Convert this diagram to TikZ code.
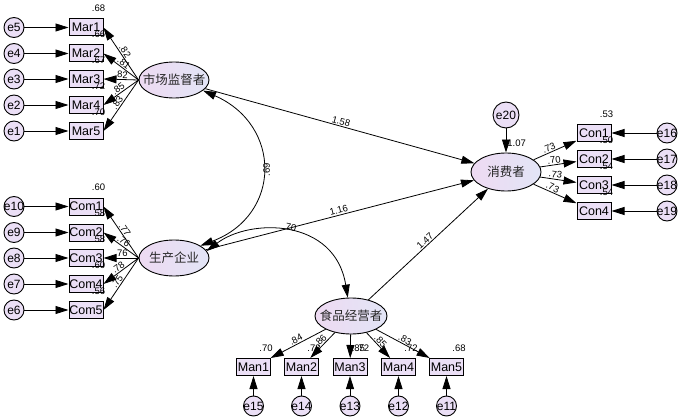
\documentclass[tikz,border=0pt]{standalone}
\usepackage{fontspec}
\setmainfont{Liberation Sans}
\newfontfamily\cjk{Noto Sans CJK SC}
\usetikzlibrary{arrows.meta,shapes.geometric}
\definecolor{lavbox}{RGB}{235,223,246}
\definecolor{lavL}{RGB}{238,218,242}
\definecolor{lavR}{RGB}{226,229,246}
\begin{document}
\begin{tikzpicture}[x=1pt,y=-1pt,
  lat/.style={ellipse, draw, line width=0.9pt, left color=lavL, right color=lavR, minimum width=70pt, minimum height=36pt, inner sep=0pt},
  ctext/.style={font=\cjk\fontsize{12.5}{14}\selectfont, inner sep=0pt, text=black!85},
  obs/.style={rectangle, draw, line width=1pt, fill=lavbox, minimum width=34pt, minimum height=17pt, inner sep=0pt, font=\fontsize{12.5}{14}\selectfont},
  err/.style={circle, draw, line width=0.9pt, fill=lavbox, minimum size=20pt, inner sep=0pt},
  etext/.style={font=\fontsize{12}{13}\selectfont, inner sep=0pt},
  num/.style={font=\fontsize{9.5}{11}\selectfont, inner sep=1pt},
  arr/.style={-{Triangle[length=13pt,width=8pt]}, line width=0.8pt},
  biarr/.style={{Triangle[length=13pt,width=8pt]}-{Triangle[length=13pt,width=8pt]}, line width=0.8pt},
]
\useasboundingbox (0,0) rectangle (680,417);

% latent variables
\node[lat, label={[ctext]center:市场监督者}] (mkt) at (174,80) {};
\node[lat, label={[ctext]center:生产企业}] (prod) at (174,258) {};
\node[lat, minimum width=72pt, label={[ctext]center:食品经营者}] (food) at (351,316) {};
\node[lat, minimum height=38pt, label={[ctext]center:消费者}] (cons) at (506,172) {};
\node[err, minimum size=26pt, label={[etext]center:e20}] (e20) at (506,115) {};

% Mar block
\foreach \i/\y/\e/\v/\l in {1/27.5/5/.68/.82, 2/53.5/4/.66/.81, 3/79/3/.67/.82, 4/105/2/.72/.85, 5/131/1/.70/.83} {
  \node[obs] (Mar\i) at (86,\y) {Mar\i};
  \node[err, label={[etext]center:e\e}] (e\e) at (14,\y) {};
  \draw[arr] (e\e) -- (Mar\i);
  \node[num] at ([shift={(-5,-10)}]Mar\i.north east) {\v};
  \draw[arr] (mkt.west) -- node[num, sloped, above, pos=0.5] {\l} (Mar\i.east);
}

% Com block
\foreach \i/\y/\e/\v/\l in {1/206.5/10/.60/.77, 2/232.5/9/.58/.76, 3/258/8/.58/.76, 4/284/7/.60/.78, 5/310/6/.56/.75} {
  \node[obs] (Com\i) at (86,\y) {Com\i};
  \node[err, label={[etext]center:e\e}] (e\e) at (14,\y) {};
  \draw[arr] (e\e) -- (Com\i);
  \node[num] at ([shift={(-5,-10)}]Com\i.north east) {\v};
  \draw[arr] (prod.west) -- node[num, sloped, above, pos=0.5] {\l} (Com\i.east);
}

% Con block
\foreach \i/\y/\e/\v/\l in {1/133/16/.53/.73, 2/159/17/.50/.70, 3/185/18/.54/.73, 4/211/19/.54/.73} {
  \node[obs] (Con\i) at (594,\y) {Con\i};
  \node[err, label={[etext]center:e\e}] (e\e) at (667,\y) {};
  \draw[arr] (e\e) -- (Con\i);
  \node[num] at ([shift={(-5,-10)}]Con\i.north east) {\v};
  \draw[arr] (cons) -- node[num, sloped, above, pos=0.4] {\l} (Con\i);
}

% Man block
\foreach \i/\x/\e/\v in {1/253.5/15/.70, 2/301.5/14/.73, 3/350/13/.72, 4/398.5/12/.72, 5/446.5/11/.68} {
  \node[obs] (Man\i) at (\x,367) {Man\i};
  \node[err, label={[etext]center:e\e}] (e\e) at (\x,406) {};
  \draw[arr] (e\e) -- (Man\i);
  \node[num] at ([shift={(-5,-10)}]Man\i.north east) {\v};
}
\draw[arr] (food) -- node[num, sloped, above, pos=0.5] {.84} (Man1);
\draw[arr] (food) -- node[num, sloped, above, pos=0.45] {.86} (Man2);
\draw[arr] (food) -- node[num, right, pos=0.6] {.85} (Man3);
\draw[arr] (food) -- node[num, sloped, above, pos=0.45] {.85} (Man4);
\draw[arr] (food) -- node[num, sloped, above, pos=0.5] {.83} (Man5);

% structural paths
\draw[arr] (e20) -- node[num, right, pos=0.6] {1.07} (cons);
\draw[arr] (mkt) -- node[num, sloped, above, pos=0.5] {1.58} (cons);
\draw[arr] (prod) -- node[num, sloped, above, pos=0.5] {1.16} (cons);
\draw[arr] (food) -- node[num, sloped, above, pos=0.5] {1.47} (cons);

% covariances
\draw[biarr] (mkt.-20) .. controls (282,125) and (282,215) .. node[num, pos=0.5, rotate=90, anchor=north] {.69} (prod.25);
\draw[biarr] (prod.12) .. controls (250,218) and (335,218) .. node[num, pos=0.5, sloped, above] {.70} (food.100);
\end{tikzpicture}
\end{document}
